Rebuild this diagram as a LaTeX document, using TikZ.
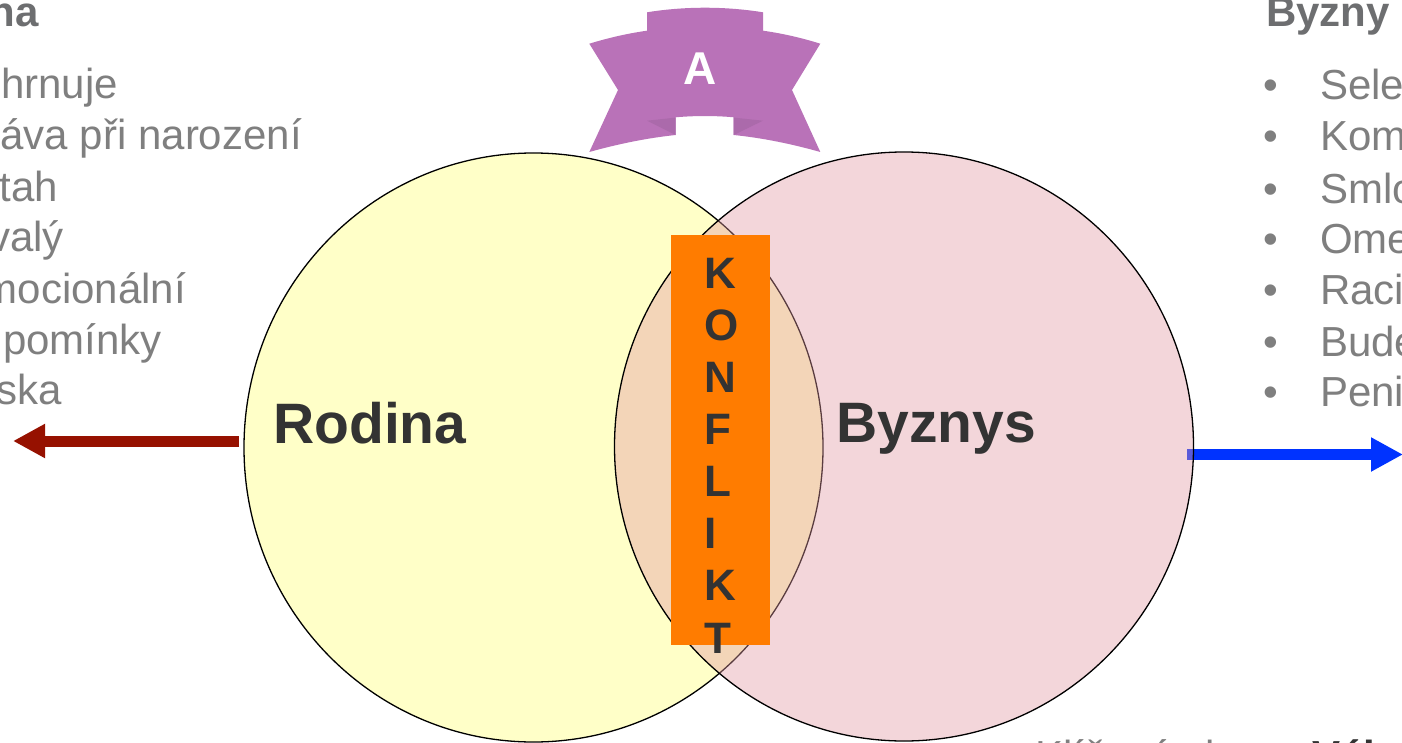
\documentclass[tikz,border=0pt]{standalone}
\usepackage{fontspec}
\setmainfont{Liberation Sans}
\usetikzlibrary{shapes.geometric,arrows.meta}
\definecolor{yel}{RGB}{255,255,200}
\definecolor{pnk}{RGB}{225,152,162}
\definecolor{org}{RGB}{255,124,0}
\definecolor{dk}{RGB}{51,51,51}
\definecolor{gr}{RGB}{127,127,127}
\definecolor{ttl}{RGB}{109,110,112}
\definecolor{rib}{RGB}{185,114,184}
\definecolor{ribd}{RGB}{171,106,171}
\definecolor{redar}{RGB}{150,17,0}
\definecolor{bluar}{RGB}{0,51,255}
\tikzset{
  venn/.style={ellipse,draw=black,line width=1.3pt,minimum width=579pt,minimum height=589pt,inner sep=0pt,outer sep=0pt},
  listtxt/.style={text=gr,font=\fontsize{42}{50}\selectfont,inner sep=0pt},
  ttltxt/.style={text=ttl,font=\fontsize{42}{50}\selectfont\bfseries,inner sep=0pt},
  bigtxt/.style={text=dk,font=\fontsize{57}{60}\selectfont\bfseries,inner sep=0pt,anchor=base west},
  konf/.style={text=dk,font=\fontsize{44}{50}\selectfont\bfseries,inner sep=0pt,anchor=base west},
  bararrow/.style={line width=11pt,-{Triangle[length=32pt,width=32pt]}}
}
\begin{document}
\begin{tikzpicture}[x=1pt,y=-1pt]
\useasboundingbox (0,0) rectangle (1402,743);
% ribbon
\fill[rib] (647,30.7) -- (647,12.3) .. controls (685,6.2) and (725,6.2) .. (763,12.3)
  -- (763,30.7) .. controls (783,33.5) and (802,38) .. (820.3,43.7) -- (792,90) -- (820.3,152)
  .. controls (792,144) and (763,138) .. (733.7,135) -- (733.7,117.3)
  .. controls (715,115.6) and (695,115.6) .. (675.7,117.3) -- (675.7,135)
  .. controls (647,138) and (618,144) .. (589.3,152) -- (618,90) -- (589.3,43.7)
  .. controls (608,38) and (627,33.5) .. (647,30.7) -- cycle;
\fill[ribd] (733.7,135) -- (733.7,117.6) -- (763,120.7) -- cycle;
\fill[ribd] (675.7,135) -- (675.7,117.6) -- (647,120.7) -- cycle;
\node[text=white,font=\fontsize{46}{50}\selectfont\bfseries,inner sep=0pt,anchor=base] (ribtxt) at (700,85) {A};
% circles and arrows
\node[venn,fill=yel] (rod) at (533.5,447.5) {};
\coordinate (redS) at (239,441);
\coordinate (redE) at (13,441);
\coordinate (bluS) at (1187,454.5);
\coordinate (bluE) at (1403,454.5);
\draw[bararrow,redar] (redS) -- (redE);
\draw[bararrow,bluar] (bluS) -- (bluE);
\node[venn,fill=pnk,fill opacity=0.4] (byz) at (904,446.5) {};
% labels
\node[bigtxt] (rodl) at (273,443) {Rodina};
\node[bigtxt] (byzl) at (836,442) {Byznys};
\node[fill=org,minimum width=99pt,minimum height=410pt,inner sep=0pt,outer sep=0pt] (bar) at (720.5,440) {};
\foreach \n/\t/\y in {a/K/288,b/O/340,c/N/392,d/F/444,e/L/496,f/I/548,g/K/600,h/T/653}
  \node[konf] (konf\n) at (704,\y) {\t};
% left list
\node[ttltxt,anchor=base east] (ltitle) at (39,27) {na};
\foreach \n/\t/\x/\y in {a/hrnuje/118/99,b/áva při narození/302/150,c/tah/58/202,d/valý/64/252,e/mocionální/186/303,f/pomínky/162/354,g/ska/62/404}
  \node[listtxt,anchor=base east] (l\n) at (\x,\y) {\t};
% right list
\node[ttltxt,anchor=base west] (rtitle) at (1266,27) {Byzny};
\foreach \n/\t/\y in {a/Sele/100,b/Kom/151,c/Smlo/204,d/Ome/254,e/Raci/305,f/Bude/356,g/Peni/406}{
  \node[listtxt,anchor=base west] (r\n) at (1320,\y) {\t};
  \node[listtxt,anchor=base west] (b\n) at (1263,\y) {•};
}
% bottom text
\node[listtxt,anchor=base west] (kw) at (1035,770) {Klíčová slova};
\node[listtxt,anchor=base west,text=dk,font=\fontsize{42}{50}\selectfont\bfseries] (kw2) at (1312,770) {Vál};
\end{tikzpicture}
\end{document}
